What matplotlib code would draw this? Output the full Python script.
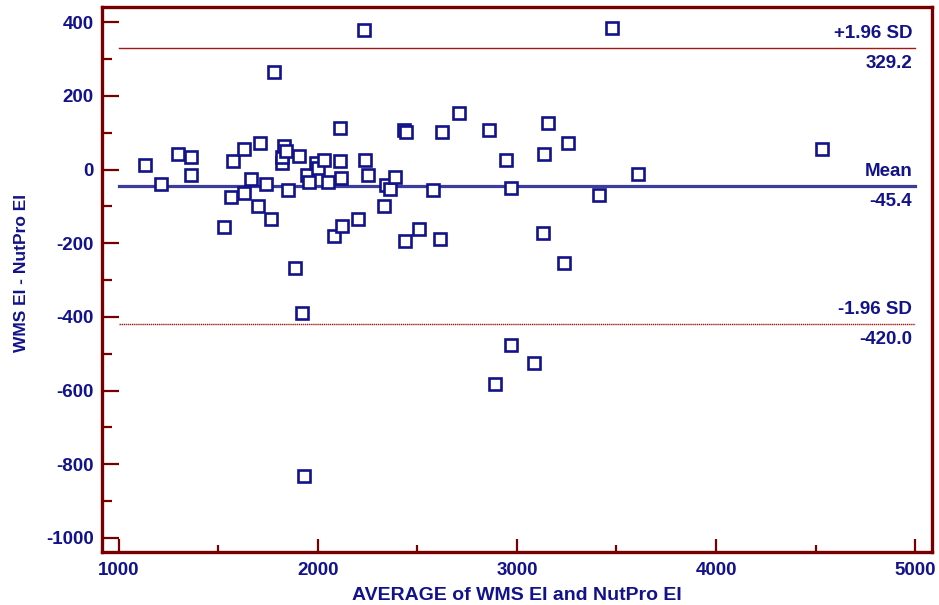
import numpy as np
import matplotlib
matplotlib.use('Agg')
import matplotlib.pyplot as plt
from matplotlib.ticker import MultipleLocator

plt.rcParams['font.family'] = ['Liberation Sans', 'DejaVu Sans']
plt.rcParams['axes.unicode_minus'] = False

# averages (x) and differences (y)
avg = [1130, 1211, 1296, 1361, 1361, 1527, 1562, 1572, 1627, 1627,
       1662, 1698, 1708, 1738, 1763, 1778, 1818, 1818, 1828, 1838,
       1848, 1883, 1904, 1919, 1929, 1944, 1954, 1989, 1999, 2029,
       2049, 2079, 2109, 2109, 2114, 2119, 2200, 2230, 2235, 2250,
       2330, 2340, 2360, 2385, 2431, 2441, 2436, 2506, 2576, 2622,
       2612, 2707, 2857, 2943, 2968, 2888, 2968, 3088, 3129, 3134,
       3154, 3234, 3254, 3410, 3475, 3610, 4534]
diff = [12, -38, 41, 35, -16, -155, -74, 22, 55, -65,
        -25, -98, 71, -38, -133, 265, 19, 35, 63, 49,
        -55, -267, 38, -390, -833, -14, -35, 19, 5, 27,
        -35, -180, 112, 22, -22, -153, -133, 379, 27, -16,
        -98, -41, -52, -19, 106, 101, -194, -161, -55, 101,
        -188, 153, 106, 25, -49, -581, -477, -524, -172, 41,
        125, -254, 71, -68, 385, -11, 55]

mean_diff = -45.4
upper = 329.2
lower = -420.0

navy = '#12128a'
red = '#760000'

fig = plt.figure(figsize=(9.39, 6.05), dpi=100)
ax = fig.add_axes([0.1086, 0.0876, 0.8839, 0.9008])

ax.plot([1000, 5000], [upper, upper], color='#a01818', linewidth=1.0)
ax.plot([1000, 5000], [lower, lower], color='#a01818', linewidth=1.0, linestyle=(0, (1, 0.5)))
ax.plot([1000, 5000], [mean_diff, mean_diff], color='#3c3c9c', linewidth=2.3)

ax.plot(avg, diff, linestyle='none', marker='s', markersize=8,
        markerfacecolor='white', markeredgecolor=navy, markeredgewidth=1.9)

txt = dict(color=navy, fontsize=13.5, fontweight='bold', ha='right')
for val, top_lab in [(upper, '+1.96 SD'), (mean_diff, 'Mean'), (lower, '-1.96 SD')]:
    ax.annotate(top_lab, xy=(5000, val), xytext=(-2, 4.5), textcoords='offset points',
                va='bottom', **txt)
    ax.annotate('%.1f' % val, xy=(5000, val), xytext=(-2, -5), textcoords='offset points',
                va='top', **txt)

ax.set_xlim(915, 5085)
ax.set_ylim(-1038, 441)
ax.xaxis.set_major_locator(MultipleLocator(1000))
ax.xaxis.set_minor_locator(MultipleLocator(500))
ax.yaxis.set_major_locator(MultipleLocator(200))
ax.yaxis.set_minor_locator(MultipleLocator(100))

for s in ax.spines.values():
    s.set_color(red)
    s.set_linewidth(2.4)

ax.tick_params(axis='both', which='both', direction='in', color=red, width=1.6,
               labelcolor=navy, labelsize=13.5)
ax.tick_params(axis='y', which='major', length=12, pad=6)
ax.tick_params(axis='y', which='minor', length=7)
ax.tick_params(axis='x', which='major', length=9.5, pad=7)
ax.tick_params(axis='x', which='minor', length=5)
ax.tick_params(top=False, right=False, which='both')
for lab in ax.get_xticklabels() + ax.get_yticklabels():
    lab.set_fontweight('bold')

ax.set_xlabel('AVERAGE of WMS EI and NutPro EI', color=navy, fontsize=14,
              fontweight='bold', labelpad=6)
ax.set_ylabel('WMS EI - NutPro EI', color=navy, fontsize=12.5,
              fontweight='bold', labelpad=11)
ax.yaxis.set_label_coords(-0.088, 0.512)

fig.savefig('out.png', dpi=100)
